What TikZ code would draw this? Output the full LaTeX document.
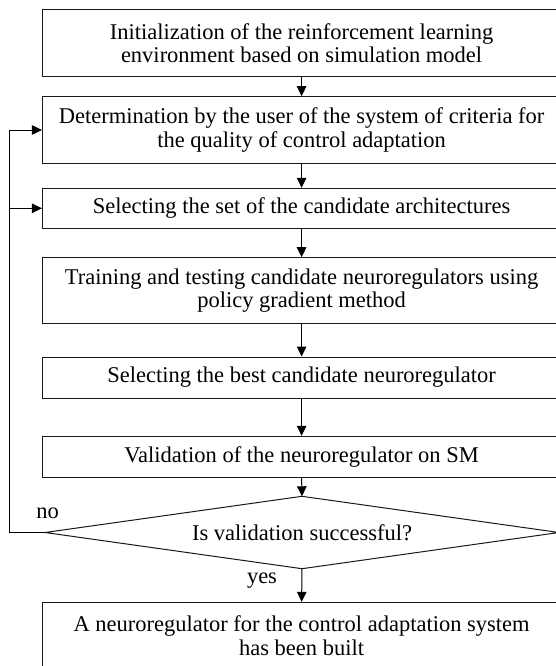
\documentclass[tikz,border=0pt]{standalone}
\usepackage{fontspec}
\setmainfont{Liberation Serif}
\usetikzlibrary{arrows.meta}
\begin{document}
\begin{tikzpicture}[x=1pt,y=-1pt,
  txt/.style={font=\fontsize{22.5}{23.5}\selectfont},
  stepbox/.style={txt, draw=black!90, line width=1pt, rectangle,
    minimum width=518.3pt, inner sep=0pt, align=center},
  outline/.style={draw=black!90, line width=1pt, line join=miter},
  flow/.style={draw=black, line width=1pt,
    -{Triangle[length=10pt,width=9.5pt]}},
  label/.style={txt, inner sep=0pt}]
\useasboundingbox (0,0) rectangle (556,666);
\clip (0,0) rectangle (556,666);

% process steps
\node[stepbox, minimum height=66.7pt] (b1) at (301.6,43.35)
  {Initialization of the reinforcement learning\\environment based on simulation model};
\node[stepbox, minimum height=66.6pt] (b2) at (301.6,130)
  {Determination by the user of the system of criteria for\\the quality of control adaptation};
\node[stepbox, minimum height=40pt] (b3) at (301.6,208.3)
  {Selecting the set of the candidate architectures};
\node[stepbox, minimum height=65.6pt] (b4) at (301.6,290.5)
  {Training and testing candidate neuroregulators using\\policy gradient method};
\node[stepbox, minimum height=41pt] (b5) at (301.6,377.5)
  {Selecting the best candidate neuroregulator};
\node[stepbox, minimum height=40.7pt] (b6) at (301.6,456.65)
  {Validation of the neuroregulator on SM};

% decision
\coordinate (dT) at (302,496.3);
\coordinate (dR) at (559,532.5);
\coordinate (dB) at (302,568.7);
\coordinate (dL) at (45,532.5);
\draw[outline] (dT) -- (dR) -- (dB) -- (dL) -- cycle;
\node[label] (dia) at (302,532.5) {Is validation successful?};

\node[stepbox, minimum height=66.6pt] (b7) at (301.6,635.6)
  {A neuroregulator for the control adaptation system\\has been built};

% main flow
\draw[flow] (b1) -- (b2);
\draw[flow] (b2) -- (b3);
\draw[flow] (b3) -- (b4);
\draw[flow] (b4) -- (b5);
\draw[flow] (b5) -- (b6);
\draw[flow] (b6.south) -- (dT);
\draw[flow] (dB) -- (b7.north);

% feedback loop on failed validation
\coordinate (corner) at (9,532.5);
\draw[flow] (dL) -- (corner) |- (b2.west);
\draw[flow] (corner |- b3.west) -- (b3.west);

% branch labels
\node[label] (no) at (47.5,513) {no};
\node[label] (yes) at (262,581) {yes};
\end{tikzpicture}
\end{document}
